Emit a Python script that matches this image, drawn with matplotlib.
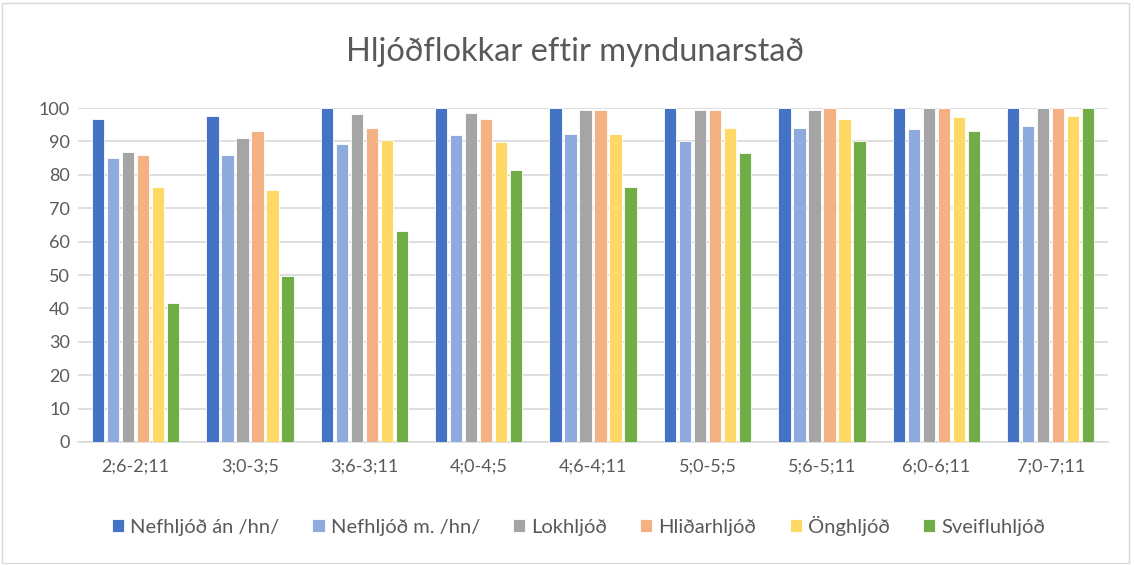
import matplotlib.pyplot as plt
import numpy as np
from matplotlib.patches import Rectangle

# Data
ages = ['2;6-2;11', '3;0-3;5', '3;6-3;11', '4;0-4;5', '4;6-4;11',
        '5;0-5;5', '5;6-5;11', '6;0-6;11', '7;0-7;11']
series_names = ['Nefhljóð án /hn/', 'Nefhljóð m. /hn/', 'Lokhljóð',
                'Hliðarhljóð', 'Önghljóð', 'Sveifluhljóð']
nef_an = [96.7, 97.6, 100, 100, 100, 100, 100, 100, 100]
nef_m = [85.0, 85.9, 89.1, 91.8, 92.2, 90.0, 94.0, 93.6, 94.5]
lok = [86.8, 90.9, 98.1, 98.5, 99.4, 99.4, 99.4, 100, 100]
hlid = [85.9, 93.0, 94.0, 96.7, 99.4, 99.4, 100, 100, 100]
ong = [76.4, 75.5, 90.4, 89.9, 92.3, 94.0, 96.7, 97.2, 97.7]
sveif = [41.6, 49.8, 63.3, 81.4, 76.4, 86.5, 90.0, 93.1, 100]
series = [nef_an, nef_m, lok, hlid, ong, sveif]
colors = ['#4472C4', '#8FAADC', '#A5A5A5', '#F4B183', '#FFD966', '#70AD47']

plt.rcParams['font.family'] = ['Lato', 'DejaVu Sans']
text_color = '#595959'

fig = plt.figure(figsize=(11.34, 5.65), dpi=100)
ax = fig.add_axes([0.069, 0.2177, 0.908, 0.591])

x = np.arange(len(ages))
pitch = 0.131
width = 0.108
for i, (vals, col, name) in enumerate(zip(series, colors, series_names)):
    off = (i - 2.5) * pitch
    ax.bar(x + off, vals, width, color=col, edgecolor='white',
           linewidth=0.6, label=name, zorder=3)

ax.set_xlim(-0.5, len(ages) - 0.5)
ax.set_ylim(0, 100)
ax.set_yticks(range(0, 101, 10))
ax.set_xticks(x)
ax.set_xticklabels(ages)
ax.grid(axis='y', color='#D9D9D9', linewidth=1.2, zorder=0)
ax.set_axisbelow(True)
for s in ['top', 'right', 'left']:
    ax.spines[s].set_visible(False)
ax.spines['bottom'].set_color('#D9D9D9')
ax.spines['bottom'].set_linewidth(1.2)
ax.tick_params(axis='both', length=0, colors=text_color, labelsize=13)
ax.tick_params(axis='x', pad=12)
ax.tick_params(axis='y', pad=6)

fig.suptitle('Hljóðflokkar eftir myndunarstað', x=0.507, y=0.935,
             fontsize=23.5, color=text_color)

fig.legend(loc='center', bbox_to_anchor=(0.51, 0.07), ncol=6, frameon=False,
           fontsize=14.5, handlelength=0.6, handleheight=0.6,
           handletextpad=0.3, columnspacing=1.65, labelcolor=text_color)

fig.patches.append(Rectangle((0.002, 0.004), 0.994, 0.99, transform=fig.transFigure,
                             fill=False, edgecolor='#D9D9D9', linewidth=1))

fig.savefig('out.png', dpi=100)
